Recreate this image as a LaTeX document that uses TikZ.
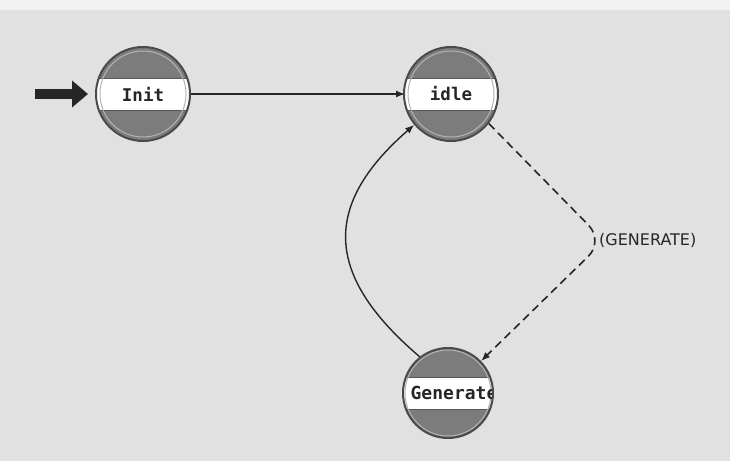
\documentclass[tikz,border=0pt]{standalone}
\usepackage{fontspec}
\newfontfamily\statefont{DejaVu Sans Mono}
\newfontfamily\labelfont{DejaVu Sans}
\usetikzlibrary{arrows.meta}
\definecolor{bggray}{HTML}{E1E1E1}
\definecolor{bgtop}{HTML}{F2F2F2}
\definecolor{stategray}{HTML}{7C7C7C}
\definecolor{stateedge}{HTML}{4A4A4A}
\definecolor{statering}{HTML}{B4B4B4}
\definecolor{inkgray}{HTML}{262626}
\newcommand\stateband{%
  \fill[white] ([yshift=-16pt]path picture bounding box.west) rectangle ([yshift=16pt]path picture bounding box.east);
  \draw[stategray!70!black, line width=0.8pt] ([yshift=-16pt]path picture bounding box.west) -- ([yshift=-16pt]path picture bounding box.east)
        ([yshift=16pt]path picture bounding box.west) -- ([yshift=16pt]path picture bounding box.east);
  \draw[statering, line width=1pt] (path picture bounding box.center) circle (43pt);
}
\tikzset{
  statetext/.style={text=inkgray, font=\statefont\bfseries\fontsize{17.5pt}{19pt}\selectfont},
  state/.style={circle, minimum size=94pt, inner sep=0pt, fill=stategray,
    draw=stateedge, line width=2pt, statetext,
    path picture={\stateband}},
  trans/.style={draw=inkgray, line width=1.4pt, -{Latex[length=9pt,width=7pt]}},
  startarrow/.style={draw=inkgray, line width=10pt, -{Triangle[length=16pt,width=26pt]}},
  translabel/.style={text=inkgray, font=\labelfont\fontsize{16pt}{18pt}\selectfont, inner sep=1pt}
}
\begin{document}
\begin{tikzpicture}[x=1pt,y=1pt]
  \useasboundingbox (0,0) rectangle (730,461);
  \fill[bggray] (0,0) rectangle (730,461);
  \fill[bgtop] (0,451) rectangle (730,461);

  \node[state] (init) at (143,367) {Init};
  \node[state] (idle) at (451,367) {idle};
  \node[state, minimum size=90pt,
        path picture={\stateband
          \node[statetext, font=\statefont\bfseries\fontsize{18pt}{20pt}\selectfont, anchor=west, inner sep=0pt]
            at ([xshift=5pt]path picture bounding box.west) {Generate};}]
        (gen) at (448,68) {};

  \coordinate (start) at (35,367);
  \draw[startarrow] (start) -- ([xshift=-7pt]init.west);

  \draw[trans] (init.east) -- ([xshift=2pt]idle.west);

  \draw[trans] (gen.128) .. controls (325,185) and (321,255) .. (idle.220);

  \coordinate (k) at (604,220);
  \draw[trans, line width=1.6pt, dashed, dash pattern=on 8pt off 5pt, rounded corners=22pt]
    (idle.-38) -- (k) -- (gen.44);
  \node[translabel, anchor=west] (lbl) at (598,221) {(GENERATE)};
\end{tikzpicture}
\end{document}
